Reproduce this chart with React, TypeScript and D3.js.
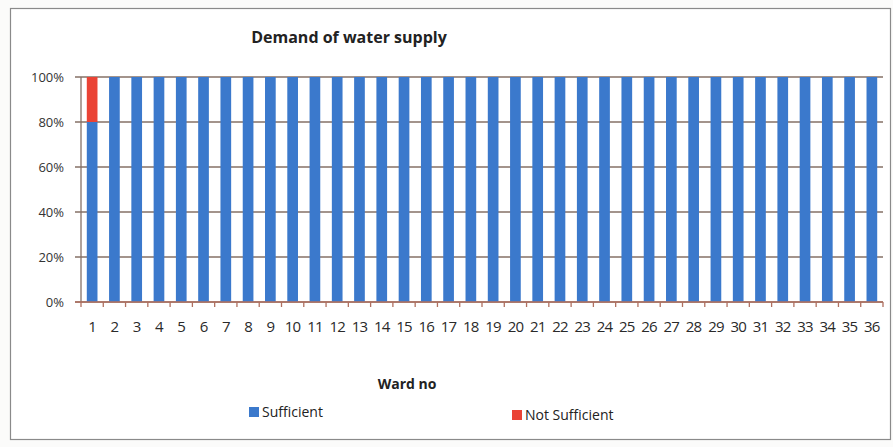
import React, { useEffect, useRef } from "react";
import * as d3 from "d3";

const wards: string[] = Array.from({ length: 36 }, (_, i) => String(i + 1));
const sufficient: number[] = [80, 100, 100, 100, 100, 100, 100, 100, 100, 100, 100, 100, 100, 100, 100, 100, 100, 100, 100, 100, 100, 100, 100, 100, 100, 100, 100, 100, 100, 100, 100, 100, 100, 100, 100, 100];
const notSufficient: number[] = [20, 0, 0, 0, 0, 0, 0, 0, 0, 0, 0, 0, 0, 0, 0, 0, 0, 0, 0, 0, 0, 0, 0, 0, 0, 0, 0, 0, 0, 0, 0, 0, 0, 0, 0, 0];
const yTicks: number[] = [0, 20, 40, 60, 80, 100];
const seriesNames: string[] = ["Sufficient", "Not Sufficient"];
const colors: string[] = ["#3b79cc", "#ea4335"];

export default function App() {
  const ref = useRef<SVGSVGElement | null>(null);
  useEffect(() => {
    const svg = d3.select(ref.current);
    svg.selectAll("*").remove();
    const W = 893, H = 447;
    const left = 81, right = 883, top = 77, bottom = 302;
    const font = "'Open Sans', 'DejaVu Sans', sans-serif";

    svg.append("rect").attr("x", 0).attr("y", 0).attr("width", W).attr("height", H).attr("fill", "#fbfbfa");
    svg.append("rect").attr("x", 10.5).attr("y", 8.5).attr("width", 880).attr("height", 431)
      .attr("fill", "#ffffff").attr("stroke", "#8a8a8a").attr("stroke-width", 1.2);

    const x = d3.scaleBand<string>().domain(wards).range([left, right]).paddingInner(0.52).paddingOuter(0.26);
    const y = d3.scaleLinear().domain([0, 100]).range([bottom, top]);

    svg.append("g").selectAll("line").data(yTicks).join("line")
      .attr("x1", left - 6).attr("x2", right).attr("y1", d => y(d)).attr("y2", d => y(d))
      .attr("stroke", "#857066").attr("stroke-width", 1.3);

    const data = wards.map((w, i) => ({ ward: w, Sufficient: sufficient[i], "Not Sufficient": notSufficient[i] }));
    const stack = d3.stack<any>().keys(seriesNames)(data);
    svg.append("g").selectAll("g").data(stack).join("g")
      .attr("fill", (_d, i) => colors[i])
      .selectAll("rect").data(d => d).join("rect")
      .attr("x", d => x(d.data.ward) as number)
      .attr("width", x.bandwidth())
      .attr("y", d => y(d[1]))
      .attr("height", d => y(d[0]) - y(d[1]));

    svg.append("line").attr("x1", left).attr("x2", left).attr("y1", top).attr("y2", bottom)
      .attr("stroke", "#857066").attr("stroke-width", 1.3);
    svg.append("line").attr("x1", left - 6).attr("x2", right).attr("y1", bottom).attr("y2", bottom)
      .attr("stroke", "#b07060").attr("stroke-width", 1.5);
    const step = x.step();
    svg.append("g").selectAll("line").data(d3.range(37)).join("line")
      .attr("x1", i => left + i * step).attr("x2", i => left + i * step)
      .attr("y1", bottom).attr("y2", bottom + 5)
      .attr("stroke", "#b07060").attr("stroke-width", 1.3);

    svg.append("g").selectAll("text").data(yTicks).join("text")
      .attr("x", 64).attr("y", d => y(d) + 4.5).attr("text-anchor", "end")
      .attr("font-family", font).attr("font-size", 13).attr("fill", "#333")
      .text(d => d + "%");

    svg.append("g").selectAll("text").data(wards).join("text")
      .attr("x", d => (x(d) as number) + x.bandwidth() / 2).attr("y", 332)
      .attr("text-anchor", "middle").attr("font-family", font).attr("font-size", 15)
      .attr("letter-spacing", -0.8).attr("fill", "#2a2a2a")
      .text(d => d);

    svg.append("text").attr("x", 349).attr("y", 43).attr("text-anchor", "middle")
      .attr("font-family", font).attr("font-size", 16).attr("font-weight", "bold").attr("fill", "#222")
      .text("Demand of water supply");

    svg.append("text").attr("x", 407).attr("y", 389).attr("text-anchor", "middle")
      .attr("font-family", font).attr("font-size", 14).attr("font-weight", "bold").attr("fill", "#222")
      .text("Ward no");

    const legendX = [249, 512];
    seriesNames.forEach((s, i) => {
      svg.append("rect").attr("x", legendX[i]).attr("y", 407 + i * 3).attr("width", 10).attr("height", 10).attr("fill", colors[i]);
      svg.append("text").attr("x", legendX[i] + 13).attr("y", 417 + i * 3)
        .attr("font-family", font).attr("font-size", 14).attr("fill", "#222").text(s);
    });
  }, []);
  return (
    <svg ref={ref} width={893} height={447} style={{ position: "absolute", left: 0, top: 0, display: "block" }} />
  );
}
